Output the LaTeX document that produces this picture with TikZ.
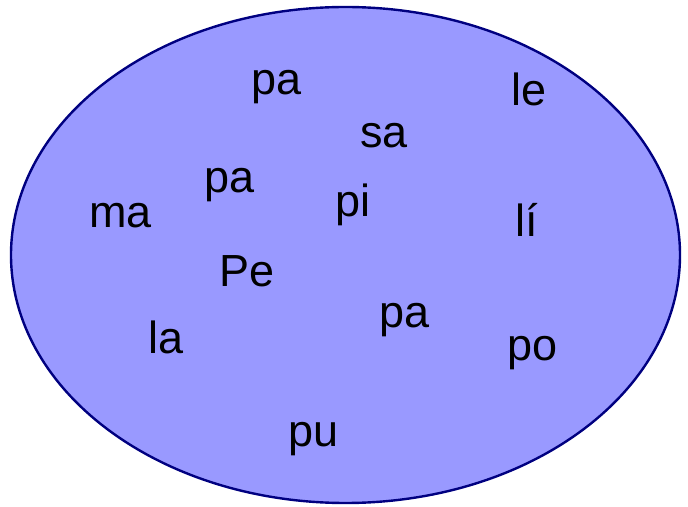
\documentclass[tikz,border=0pt]{standalone}
\usepackage{fontspec}
\setmainfont{Liberation Sans}
\definecolor{setfill}{HTML}{9999FF}
\definecolor{setline}{HTML}{000080}
\begin{document}
\begin{tikzpicture}[x=1pt,y=1pt,
  syl/.style={anchor=base west,inner sep=0pt,font=\fontsize{45}{45}\selectfont}]
\useasboundingbox (0,0) rectangle (688,506);
\draw[setline,fill=setfill,line width=2.4pt] (345.5,251) ellipse [x radius=334.5,y radius=248];
\node[syl] (pa1) at (251,411) {pa};
\node[syl] (le) at (511,400) {le};
\node[syl] (sa) at (360,358) {sa};
\node[syl] (pa2) at (204,313) {pa};
\node[syl] (pi) at (335,289) {pi};
\node[syl] (ma) at (89,278) {ma};
\node[syl] (li) at (515,269) {lí};
\node[syl] (Pe) at (219,219) {Pe};
\node[syl] (pa3) at (379,178) {pa};
\node[syl] (la) at (148,152) {la};
\node[syl] (po) at (507,145) {po};
\node[syl] (pu) at (288,59) {pu};
\end{tikzpicture}
\end{document}
